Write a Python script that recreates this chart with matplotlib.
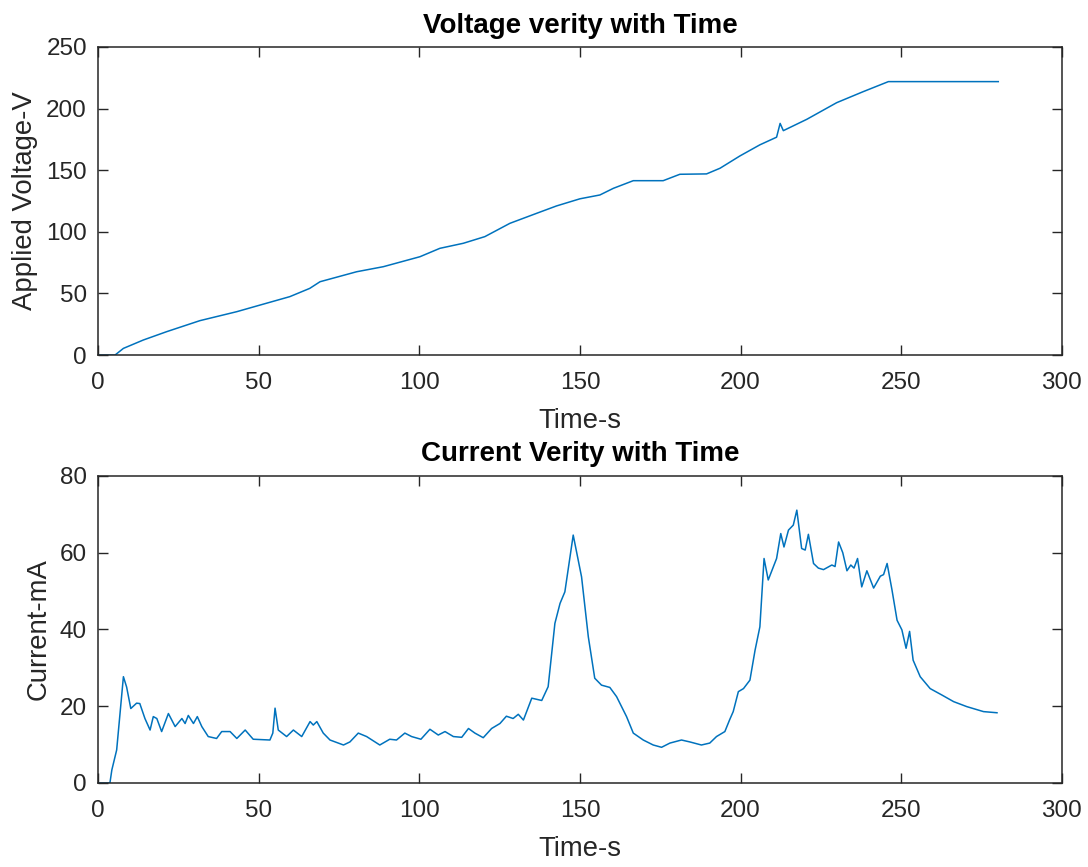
import matplotlib
matplotlib.use("Agg")
import matplotlib.pyplot as plt

plt.rcParams['font.family'] = ['Liberation Sans', 'DejaVu Sans']

# voltage readings (s, V)
volt_t = [0, 5.3, 7.9, 14.1, 21.4, 31.7, 43.2, 49.4, 59.7, 65.9, 69.1, 80.5,
          88.8, 100.2, 106.4, 113.7, 120.4, 128.2, 136.5, 142.7, 150.0, 156.2,
          160.4, 166.6, 175.9, 181.1, 189.4, 193.6, 199.8, 206.0, 211.2, 212.3,
          213.3, 220.6, 229.9, 238.2, 246.0, 280.2]
volt_v = [0, 0, 5.4, 12.2, 19.0, 27.9, 35.2, 39.8, 47.4, 54.1, 59.5, 67.6,
          71.7, 79.8, 86.6, 90.7, 96.1, 106.9, 115.0, 121.0, 126.8, 129.9,
          135.3, 141.5, 141.5, 146.7, 147.0, 151.6, 161.6, 170.6, 176.8, 188.0,
          182.1, 191.3, 204.8, 213.8, 221.9, 221.9]

# current readings (s, mA)
curr_t = [0, 3.7, 4.3, 5.8, 7.9, 8.9, 10.2, 12.0, 13.0, 14.6, 16.2, 17.2, 18.3,
          19.8, 21.9, 24.0, 26.1, 27.1, 28.1, 29.7, 30.9, 32.3, 34.3, 36.9,
          38.5, 41.1, 43.2, 45.8, 48.3, 53.5, 54.4, 55.1, 56.1, 58.7, 60.8,
          63.4, 66.0, 67.0, 68.1, 70.1, 72.2, 76.4, 78.4, 81.0, 83.6, 87.7,
          90.8, 92.9, 95.5, 97.6, 100.5, 103.3, 105.9, 108.0, 110.6, 113.2,
          115.3, 117.3, 119.9, 122.5, 125.1, 127.1, 129.2, 130.8, 132.4, 135.0,
          138.1, 140.1, 142.2, 143.8, 145.3, 147.9, 150.5, 152.6, 154.6, 156.7,
          159.3, 161.4, 164.5, 166.6, 169.7, 172.8, 175.4, 178.0, 181.6, 184.2,
          187.8, 190.4, 192.5, 195.1, 196.6, 197.7, 199.3, 200.9, 202.9, 204.5,
          206.0, 207.3, 208.6, 210.2, 211.2, 212.5, 213.5, 214.9, 216.4, 217.5,
          219.0, 220.1, 221.1, 222.7, 224.2, 225.8, 228.4, 229.4, 230.5, 231.8,
          233.1, 234.3, 235.3, 236.4, 237.7, 239.3, 241.4, 243.5, 244.5, 245.6,
          247.1, 248.7, 250.2, 251.5, 252.6, 253.7, 255.9, 259.0, 262.7, 266.3,
          270.4, 275.6, 279.8]
curr_i = [0, 0, 3.4, 8.6, 27.7, 25.0, 19.4, 20.8, 20.7, 16.8, 13.8, 17.3, 16.8,
          13.4, 18.1, 14.7, 16.8, 15.5, 17.6, 15.5, 17.3, 14.7, 12.1, 11.6,
          13.4, 13.4, 11.6, 13.8, 11.4, 11.2, 13.0, 19.5, 13.8, 12.1, 13.8,
          12.1, 16.0, 15.1, 16.0, 13.0, 11.2, 9.9, 10.7, 13.0, 12.1, 9.9,
          11.4, 11.2, 13.0, 12.1, 11.4, 14.0, 12.5, 13.4, 12.1, 11.9,
          14.2, 13.0, 11.8, 14.2, 15.5, 17.4, 16.8, 17.9, 16.4, 22.1,
          21.5, 25.1, 41.6, 46.8, 49.8, 64.6, 53.7, 38.1, 27.3, 25.5,
          24.9, 22.5, 17.3, 13.0, 11.2, 9.9, 9.3, 10.4, 11.2, 10.7,
          9.9, 10.4, 12.1, 13.4, 16.5, 18.6, 23.8, 24.6, 26.8, 34.6,
          40.7, 58.5, 52.9, 56.3, 58.5, 65.0, 61.5, 65.9, 67.2, 71.1,
          61.1, 60.7, 64.8, 57.2, 56.0, 55.6, 56.8, 56.4, 62.8, 60.0,
          55.3, 56.8, 56.0, 58.5, 51.1, 55.3, 50.8, 53.9, 54.3, 57.2,
          50.4, 42.4, 39.9, 35.1, 39.5, 32.0, 27.7, 24.6, 22.9, 21.2,
          19.9, 18.6, 18.3]

line_color = '#0072BD'
axis_color = '#262626'

fig = plt.figure(figsize=(10.88, 8.67), dpi=100)
ax1 = fig.add_axes([0.0901, 0.5905, 0.8859, 0.3553])
ax2 = fig.add_axes([0.0901, 0.0969, 0.8859, 0.3541])


def style(ax):
    ax.tick_params(direction='in', top=True, right=True, length=7, width=1,
                   labelsize=17.5, colors=axis_color)
    ax.tick_params(axis='x', pad=12.5)
    ax.tick_params(axis='y', pad=8)
    for s in ax.spines.values():
        s.set_color(axis_color)
        s.set_linewidth(1.1)


ax1.plot(volt_t, volt_v, color=line_color, lw=1.1)
ax1.set_xlim(0, 300)
ax1.set_ylim(0, 250)
ax1.set_xticks(range(0, 301, 50))
ax1.set_yticks(range(0, 251, 50))
style(ax1)
ax1.set_xlabel('Time-s', fontsize=19.8, color=axis_color, labelpad=10)
ax1.set_ylabel('Applied Voltage-V', fontsize=19.8, color=axis_color, labelpad=6)
ax1.set_title('Voltage verity with Time', fontsize=20, fontweight='bold',
              pad=10)

ax2.plot(curr_t, curr_i, color=line_color, lw=1.1)
ax2.set_xlim(0, 300)
ax2.set_ylim(0, 80)
ax2.set_xticks(range(0, 301, 50))
ax2.set_yticks(range(0, 81, 20))
style(ax2)
ax2.set_xlabel('Time-s', fontsize=19.8, color=axis_color, labelpad=10)
ax2.set_ylabel('Current-mA', fontsize=19.8, color=axis_color, labelpad=6)
ax2.set_title('Current Verity with Time', fontsize=20, fontweight='bold',
              pad=11)

fig.savefig('out.png', dpi=100)
